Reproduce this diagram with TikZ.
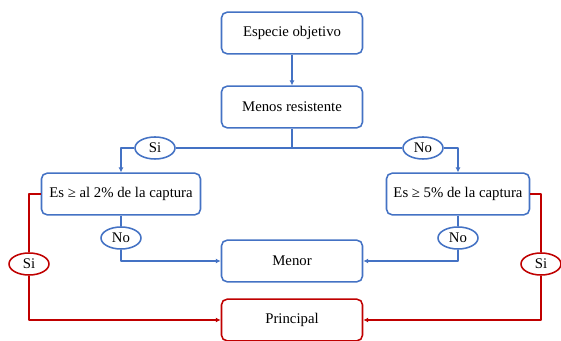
\documentclass[tikz,border=0pt]{standalone}
\usepackage{fontspec}
\setmainfont{Liberation Serif}
\usetikzlibrary{arrows.meta,shapes.geometric}
\definecolor{flujoazul}{HTML}{4472C4}
\definecolor{flujorojo}{HTML}{C00000}

\begin{document}
\begin{tikzpicture}[x=0.025cm,y=-0.025cm,>={Latex[length=3.5pt,width=3.5pt]},
  line join=round,font=\fontsize{10.5}{12}\selectfont,
  caja/.style={draw=flujoazul,line width=1.1pt,rounded corners=4pt,fill=white,
    minimum width=3.525cm,minimum height=1.04cm,inner sep=2pt},
  resp/.style={ellipse,draw=flujoazul,line width=1.1pt,fill=white,
    minimum width=1cm,minimum height=0.55cm,inner sep=0pt},
  azul/.style={draw=flujoazul,line width=0.8pt},
  rojo/.style={draw=flujorojo,line width=0.8pt}]
\path[use as bounding box] (0,0) rectangle (561,341);
\fill[white] (0,0) rectangle (561,341);

% cajas
\node[caja] (especie) at (292,33) {Especie objetivo};
\node[caja] (menos) at (292,107) {Menos resistente};
\node[caja,minimum width=3.975cm] (dos) at (121,194) {Es ≥ al 2\% de la captura};
\node[caja,minimum width=3.575cm] (cinco) at (458,194) {Es ≥ 5\% de la captura};
\node[caja] (menor) at (292,261) {Menor};
\node[caja,draw=flujorojo] (principal) at (292,320) {Principal};

% respuestas
\node[resp] (si1) at (155,148) {Si};
\node[resp] (no1) at (423,148) {No};
\node[resp] (no2) at (121,238) {No};
\node[resp] (no3) at (458,238) {No};
\node[resp,draw=flujorojo] (si2) at (29,264) {Si};
\node[resp,draw=flujorojo] (si3) at (541,264) {Si};

% conectores
\coordinate (rama) at (menos.south |- si1);
\draw[azul,->] (especie) -- (menos);
\draw[azul] (menos) -- (rama);
\draw[azul] (rama) -- (si1);
\draw[azul] (rama) -- (no1);
\draw[azul,->] (si1) -| (dos);
\draw[azul,->] (no1) -| (cinco);
\draw[azul] (dos) -- (no2);
\draw[azul,->] (no2) |- (menor);
\draw[azul] (cinco) -- (no3);
\draw[azul,->] (no3) |- (menor);
\draw[rojo] (dos.west) -| (si2);
\draw[rojo,->] (si2) |- (principal);
\draw[rojo] (cinco.east) -| (si3);
\draw[rojo,->] (si3) |- (principal);
\end{tikzpicture}
\end{document}
